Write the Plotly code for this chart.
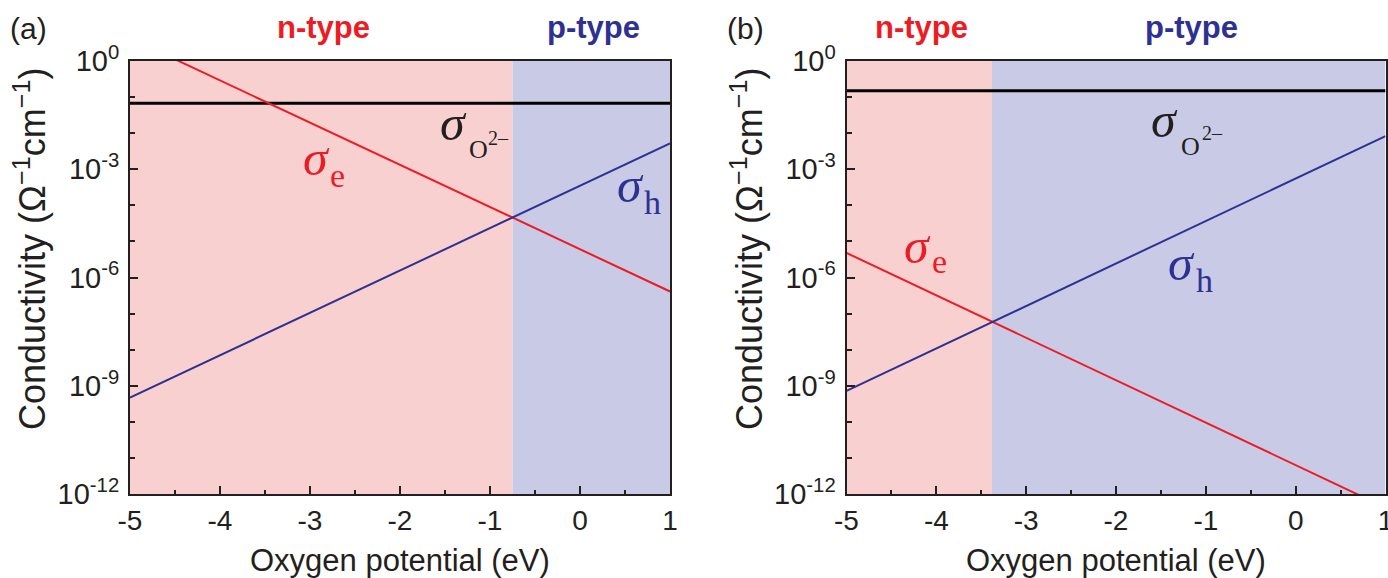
import plotly.graph_objects as go

W, H = 1388, 578

# ---------------- data ----------------
x_range = [-5, 1]
x_ticks = [-5, -4, -3, -2, -1, 0, 1]
x_ticktext = ["-5", "-4", "-3", "-2", "-1", "0", "1"]
y_major = [1e0, 1e-3, 1e-6, 1e-9, 1e-12]
y_major_text = ["10<sup>0</sup>", "10<sup>-3</sup>", "10<sup>-6</sup>", "10<sup>-9</sup>", "10<sup>-12</sup>"]
y_minor = [1e-1, 1e-2, 1e-4, 1e-5, 1e-7, 1e-8, 1e-10, 1e-11]

# panel (a): line end-points at x = -5 and x = 1
a_x = [-5, 1]
a_sigma_e = [4.3, 4.1e-7]
a_sigma_h = [4.7e-10, 5.2e-3]
a_sigma_O = [0.067, 0.067]
a_boundary = -0.75          # n-type / p-type border

# panel (b)
b_x = [-5, 1]
b_sigma_e = [4.8e-6, 4.2e-13]
b_sigma_h = [7.2e-10, 8.3e-3]
b_sigma_O = [0.15, 0.15]
b_boundary = -3.38

# ---------------- styles ----------------
RED = "#ED1C24"
BLUE = "#2E3192"
PINK_BG = "#F9D0D0"
BLUE_BG = "#C8CAE6"
AXC = "#231F20"
SANS = "Liberation Sans, Arial, sans-serif"
SERIF = "Liberation Serif, Times New Roman, serif"


def fx(p):
    return p / W


def fy(p):
    return 1 - p / H


fig = go.Figure()

panels = [
    ("x", "y", a_x, a_sigma_e, a_sigma_h, a_sigma_O, a_boundary),
    ("x2", "y2", b_x, b_sigma_e, b_sigma_h, b_sigma_O, b_boundary),
]

for xa, ya, xs, se, sh, so, bnd in panels:
    fig.add_trace(go.Scatter(x=xs, y=so, mode="lines", line=dict(color="#000000", width=3),
                             xaxis=xa, yaxis=ya, showlegend=False, hoverinfo="skip"))
    fig.add_trace(go.Scatter(x=xs, y=se, mode="lines", line=dict(color=RED, width=2),
                             xaxis=xa, yaxis=ya, showlegend=False, hoverinfo="skip"))
    fig.add_trace(go.Scatter(x=xs, y=sh, mode="lines", line=dict(color=BLUE, width=2),
                             xaxis=xa, yaxis=ya, showlegend=False, hoverinfo="skip"))
    fig.add_shape(type="rect", xref=xa, yref=ya + " domain", x0=x_range[0], x1=bnd, y0=0, y1=1,
                  fillcolor=PINK_BG, line=dict(width=0), layer="below")
    fig.add_shape(type="rect", xref=xa, yref=ya + " domain", x0=bnd, x1=x_range[1], y0=0, y1=1,
                  fillcolor=BLUE_BG, line=dict(width=0), layer="below")

ydom = [fy(494), fy(61)]
xdom_a = [fx(130), fx(670)]
xdom_b = [fx(846.5), fx(1385.5)]

xaxis_common = dict(
    range=x_range, tickmode="array", tickvals=x_ticks, ticktext=x_ticktext,
    ticks="inside", ticklen=8, tickwidth=2, tickcolor=AXC,
    minor=dict(tickmode="linear", tick0=-5, dtick=0.5, ticks="inside", ticklen=4, tickwidth=2, tickcolor=AXC),
    showline=True, linewidth=2, linecolor=AXC, mirror=True,
    showgrid=False, zeroline=False, automargin=False, ticklabeloverflow="allow",
    tickfont=dict(family=SANS, size=28, color="#231F20"),
)
yaxis_common = dict(
    type="log", range=[-12, 0], tickmode="array", tickvals=y_major, ticktext=y_major_text,
    ticks="inside", ticklen=8, tickwidth=2, tickcolor=AXC,
    minor=dict(tickmode="array", tickvals=y_minor, ticks="inside", ticklen=5, tickwidth=2, tickcolor=AXC),
    showline=True, linewidth=2, linecolor=AXC, mirror=True,
    showgrid=False, zeroline=False, ticklabelstandoff=3, automargin=False, ticklabeloverflow="allow",
    tickfont=dict(family=SANS, size=29, color="#231F20"),
)

fig.update_layout(
    width=W, height=H, autosize=False,
    margin=dict(l=0, r=0, t=0, b=0, pad=0, autoexpand=False),
    paper_bgcolor="white", plot_bgcolor="white",
    xaxis=dict(domain=xdom_a, anchor="y", **xaxis_common),
    yaxis=dict(domain=ydom, anchor="x", **yaxis_common),
    xaxis2=dict(domain=xdom_b, anchor="y2", **xaxis_common),
    yaxis2=dict(domain=ydom, anchor="x2", **yaxis_common),
)

anns = []


def txt(x, y, text, size, family=SANS, color="#231F20", angle=0):
    anns.append(dict(x=fx(x), y=fy(y), xref="paper", yref="paper", text=text, showarrow=False,
                     xanchor="center", yanchor="middle", textangle=angle,
                     font=dict(family=family, size=size, color=color)))


# panel labels and region labels
txt(28, 29, "(a)", 30)
txt(323, 27, "<b>n-type</b>", 31, color=RED)
txt(593, 27, "<b>p-type</b>", 31, color=BLUE)
txt(745, 29, "(b)", 30)
txt(921, 27, "<b>n-type</b>", 31, color=RED)
txt(1191, 27, "<b>p-type</b>", 31, color=BLUE)

# axis titles
for xc in (400, 1116):
    txt(xc, 560, "Oxygen potential (eV)", 31)
for xc in (30, 747):
    txt(xc, 249, "Conductivity (Ω<sup>−1</sup>cm<sup>−1</sup>)", 36, angle=-90)

# sigma labels: (x_sigma, y_sigma, x_sub, y_sub, sub, color, sup)
labels = [
    (316, 158, 337.5, 175.5, "e", RED, None),
    (453, 123, 478, 149, "O", "#231F20", (499, 138)),
    (630, 185, 652, 202, "h", BLUE, None),
    (917, 246, 939, 261.5, "e", RED, None),
    (1164.5, 120, 1190.5, 146, "O", "#231F20", (1212, 133)),
    (1181.5, 263, 1204.5, 280, "h", BLUE, None),
]
for xs_, ys_, xsub, ysub, sub, col, sup in labels:
    txt(xs_, ys_, "<i>σ</i>", 50, family=SERIF, color=col)
    txt(xsub, ysub, sub, 26 if sub == "O" else 34, family=SERIF, color=col)
    if sup is not None:
        txt(sup[0], sup[1], "2–", 20, family=SERIF, color=col)

fig.update_layout(annotations=anns)

fig.write_html("out.html", config={"displayModeBar": False, "staticPlot": True},
               post_script="document.body.style.margin = '0px';")
